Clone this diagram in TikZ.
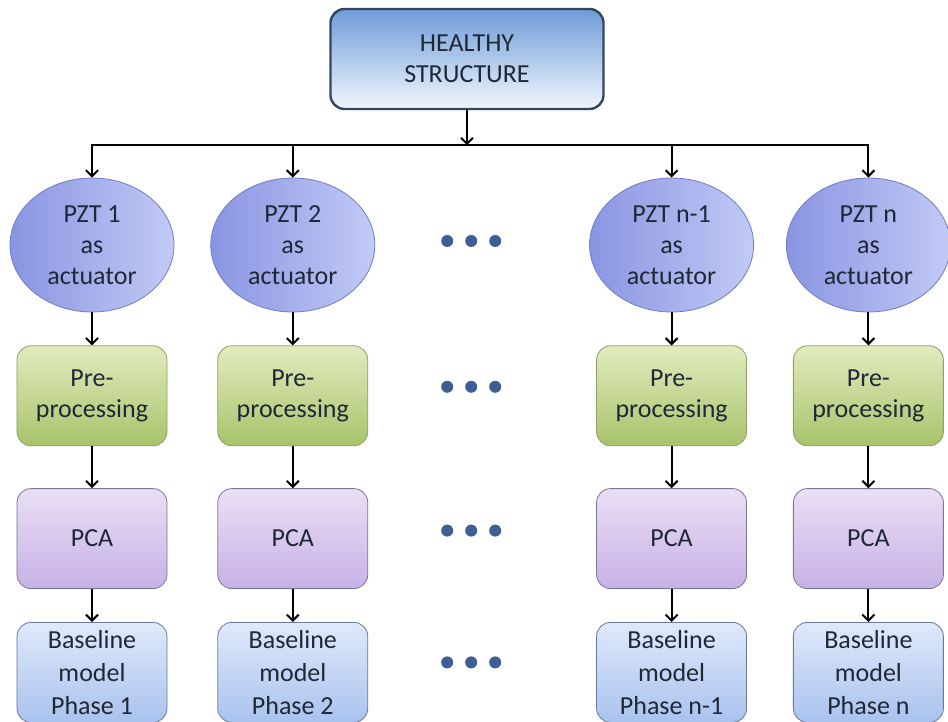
\documentclass[tikz,border=0pt]{standalone}
\usepackage{fontspec}
\setmainfont{Carlito}
\usepackage{tikz}
\usetikzlibrary{matrix,arrows.meta,positioning,shapes.geometric}

\definecolor{textdark}{HTML}{1F2836}
\definecolor{topblue}{HTML}{6E9BD8}
\definecolor{topwhite}{HTML}{F2F7FD}
\definecolor{topedge}{HTML}{34465E}
\definecolor{pztleft}{HTML}{8A95E2}
\definecolor{pztright}{HTML}{C2CAF5}
\definecolor{pztedge}{HTML}{6E7CC6}
\definecolor{pretop}{HTML}{E2EBBF}
\definecolor{prebot}{HTML}{A8C36A}
\definecolor{preedge}{HTML}{8E9F68}
\definecolor{pcatop}{HTML}{EADFF5}
\definecolor{pcabot}{HTML}{C6B1E6}
\definecolor{pcaedge}{HTML}{7E7494}
\definecolor{basetop}{HTML}{E0E9FB}
\definecolor{basebot}{HTML}{A9C2EE}
\definecolor{baseedge}{HTML}{6878A2}
\definecolor{dotblue}{HTML}{3D5F96}

\tikzset{
  healthybox/.style={rectangle, rounded corners=14pt, draw=topedge, line width=2.4pt,
    top color=topblue, bottom color=topwhite, minimum width=273pt, minimum height=100pt, align=center},
  actuator/.style={ellipse, draw=pztedge, line width=0.8pt, left color=pztleft, right color=pztright,
    minimum width=164pt, minimum height=134pt, inner sep=0pt, align=center},
  preproc/.style={rectangle, rounded corners=14pt, draw=preedge, line width=0.8pt,
    top color=pretop, bottom color=prebot, minimum width=150pt, minimum height=100pt, inner sep=0pt, align=center},
  pcabox/.style={rectangle, rounded corners=14pt, draw=pcaedge, line width=0.8pt,
    top color=pcatop, bottom color=pcabot, minimum width=150pt, minimum height=100pt, inner sep=0pt, align=center},
  basebox/.style={rectangle, rounded corners=14pt, draw=baseedge, line width=0.8pt,
    top color=basetop, bottom color=basebot, minimum width=150pt, minimum height=100pt, inner sep=0pt, align=center,
    font=\fontsize{26}{33}\selectfont},
  arr/.style={-{Straight Barb[length=6pt,width=12pt]}, line width=2pt}
}

\begin{document}
\begin{tikzpicture}[font=\fontsize{26}{31}\selectfont, text=textdark]
  \useasboundingbox (0,0) rectangle (948pt,-722pt);
  \node[healthybox] (healthy) at (467pt,-59pt) {HEALTHY\\STRUCTURE};
  \coordinate[below=35pt of healthy.south] (bus);
  \matrix (m) [matrix anchor=pzt1.center, column sep=36pt, row sep=33pt] at (92pt,-245pt)
  {
    \node[actuator] (pzt1) {PZT 1\\as\\actuator}; &
    \node[actuator] (pzt2) {PZT 2\\as\\actuator}; &[60pt]
    \coordinate[yshift=4pt] (dots1); &[82pt]
    \node[actuator] (pztn1) {PZT n-1\\as\\actuator}; &[-4pt]
    \node[actuator] (pztn) {PZT n\\as\\actuator}; \\
    \node[preproc] (pre1) {Pre-\\processing}; &
    \node[preproc] (pre2) {Pre-\\processing}; &
    \coordinate[yshift=9pt] (dots2); &
    \node[preproc] (pren1) {Pre-\\processing}; &
    \node[preproc] (pren) {Pre-\\processing}; \\[9pt]
    \node[pcabox] (pca1) {PCA}; &
    \node[pcabox] (pca2) {PCA}; &
    \coordinate[yshift=8pt] (dots3); &
    \node[pcabox] (pcan1) {PCA}; &
    \node[pcabox] (pcan) {PCA}; \\
    \node[basebox] (base1) {Baseline\\model\\Phase 1}; &
    \node[basebox] (base2) {Baseline\\model\\Phase 2}; &
    \coordinate[yshift=10pt] (dots4); &
    \node[basebox] (basen1) {Baseline\\model\\Phase n-1}; &
    \node[basebox] (basen) {Baseline\\model\\Phase n}; \\
  };
  \draw[line width=2pt, line cap=rect] (bus -| pzt1) -- (bus -| pztn);
  \path[arr]
  (healthy) edge (healthy |- bus)
  (bus -| pzt1) edge (pzt1)
  (bus -| pzt2) edge (pzt2)
  (bus -| pztn1) edge (pztn1)
  (bus -| pztn) edge (pztn)
  (pzt1) edge (pre1)   (pre1) edge (pca1)   (pca1) edge (base1)
  (pzt2) edge (pre2)   (pre2) edge (pca2)   (pca2) edge (base2)
  (pztn1) edge (pren1) (pren1) edge (pcan1) (pcan1) edge (basen1)
  (pztn) edge (pren)   (pren) edge (pcan)   (pcan) edge (basen);
  % the dots between the columns
  \foreach \d in {dots1,dots2,dots3,dots4}
    \foreach \dx in {-24pt,0pt,24pt}
      \fill[dotblue] ([xshift=\dx]\d) circle (6pt);
\end{tikzpicture}
\end{document}
